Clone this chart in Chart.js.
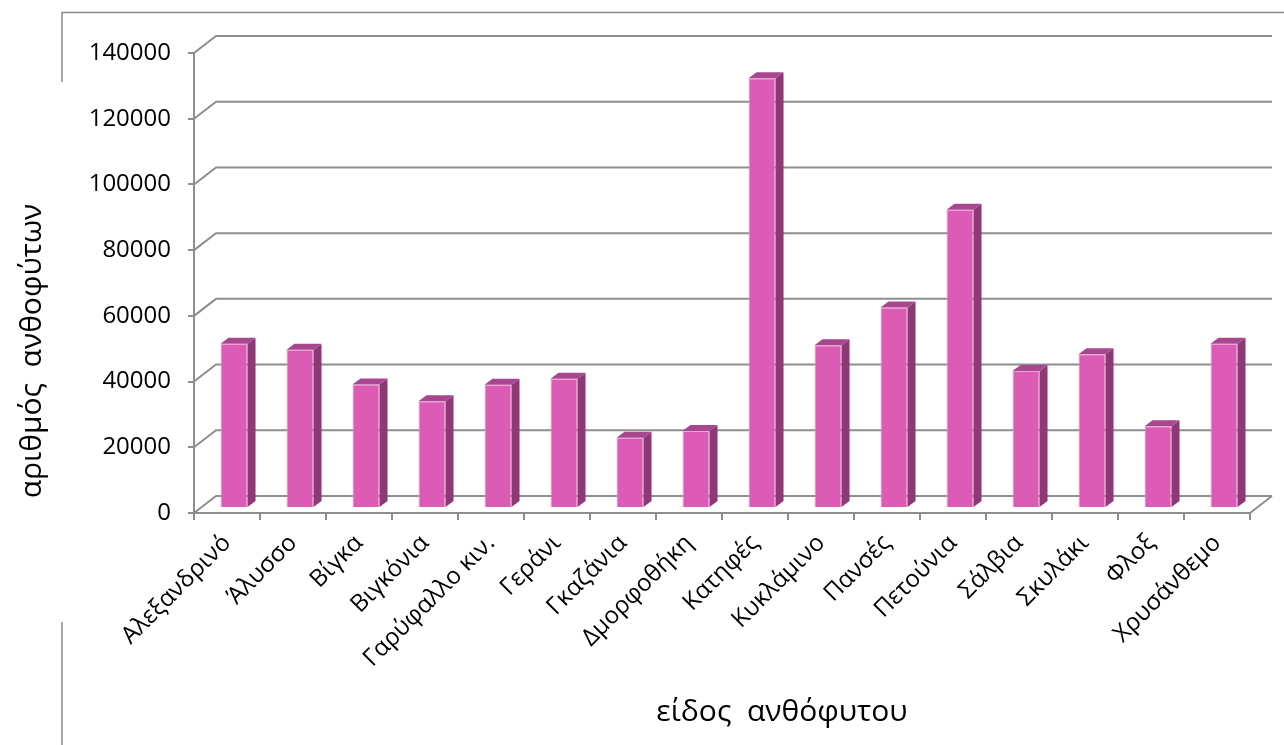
<!DOCTYPE html>
<html>
<head>
<meta charset="utf-8">
<script src="https://cdn.jsdelivr.net/npm/chart.js@4"></script>
<style>
  html, body { margin: 0; padding: 0; background: #fff; }
  canvas { display: block; }
</style>
</head>
<body>
<canvas id="graph" width="1284" height="745"></canvas>
<script>
const categories = ["Αλεξανδρινό", "Άλυσσο", "Βίγκα", "Βιγκόνια", "Γαρύφαλλο κιν.", "Γεράνι", "Γκαζάνια", "Δμορφοθήκη",
  "Κατηφές", "Κυκλάμινο", "Πανσές", "Πετούνια", "Σάλβια", "Σκυλάκι", "Φλοξ", "Χρυσάνθεμο"];
const plantCounts = [50000, 48200, 37600, 32500, 37500, 39300, 21400, 23400,
  130800, 49500, 61000, 90800, 41700, 46800, 24900, 50000];
const yTicks = [0, 20000, 40000, 60000, 80000, 100000, 120000, 140000];
const xTitle = "είδος  ανθόφυτου";
const yTitle = "αριθμός  ανθοφύτων";

const FONT = "'Open Sans', 'Noto Sans', sans-serif";
const GRID = "#8e8e8e";
// βάθος του "τρισδιάστατου" διαγράμματος
const DEPTH = { x: 22, y: 17 };
const BAR_SHIFT = { x: 7, y: -5 };
const BAR_DEPTH = { x: 8, y: 6 };

const fake3d = {
  id: "fake3d",
  beforeDraw(chart) {
    const ctx = chart.ctx;
    ctx.save();
    // πλαίσιο
    ctx.strokeStyle = "#8a8a8a";
    ctx.lineWidth = 1.5;
    ctx.beginPath();
    ctx.moveTo(62, 82); ctx.lineTo(62, 12.5); ctx.lineTo(1284, 12.5);
    ctx.moveTo(62, 622); ctx.lineTo(62, 745);
    ctx.stroke();
    ctx.restore();
  },
  beforeDatasetsDraw(chart) {
    const { ctx, chartArea } = chart;
    const y = chart.scales.y;
    ctx.save();
    ctx.strokeStyle = GRID;
    ctx.lineWidth = 2;
    ctx.beginPath();
    yTicks.forEach(v => {
      const py = y.getPixelForValue(v);
      ctx.moveTo(chartArea.left, py);
      ctx.lineTo(chartArea.left + DEPTH.x, py - DEPTH.y);
      ctx.lineTo(chartArea.right + DEPTH.x, py - DEPTH.y);
    });
    // δεξιά γωνία του δαπέδου
    ctx.moveTo(chartArea.right, chartArea.bottom);
    ctx.lineTo(chartArea.right + DEPTH.x, chartArea.bottom - DEPTH.y);
    ctx.stroke();
    ctx.restore();

    ctx.save();
    ctx.translate(BAR_SHIFT.x, BAR_SHIFT.y);
  },
  afterDatasetsDraw(chart) {
    const ctx = chart.ctx;
    chart.getDatasetMeta(0).data.forEach(bar => {
      const { x, y, base, width } = bar.getProps(["x", "y", "base", "width"], true);
      const l = x - width / 2, r = x + width / 2;
      ctx.fillStyle = "#8b3a75";
      ctx.beginPath();
      ctx.moveTo(r, y); ctx.lineTo(r + BAR_DEPTH.x, y - BAR_DEPTH.y);
      ctx.lineTo(r + BAR_DEPTH.x, base - BAR_DEPTH.y); ctx.lineTo(r, base);
      ctx.closePath(); ctx.fill();
      ctx.fillStyle = "#a8468f";
      ctx.beginPath();
      ctx.moveTo(l, y); ctx.lineTo(l + BAR_DEPTH.x, y - BAR_DEPTH.y);
      ctx.lineTo(r + BAR_DEPTH.x, y - BAR_DEPTH.y); ctx.lineTo(r, y);
      ctx.closePath(); ctx.fill();
    });
    ctx.restore();
  },
  afterDraw(chart) {
    const ctx = chart.ctx;
    ctx.save();
    ctx.fillStyle = "#000";
    ctx.font = "30px " + FONT;
    ctx.textAlign = "center";
    ctx.textBaseline = "middle";
    ctx.fillText(xTitle, 782, 712);
    ctx.translate(32, 351);
    ctx.rotate(-Math.PI / 2);
    ctx.fillText(yTitle, 0, 0);
    ctx.restore();
  }
};

new Chart(document.getElementById("graph"), {
  type: "bar",
  data: {
    labels: categories,
    datasets: [{
      data: plantCounts,
      backgroundColor: "#db5bb5",
      borderColor: "#eea3d6",
      borderWidth: 1,
      categoryPercentage: 1,
      barPercentage: 0.41
    }]
  },
  options: {
    responsive: false,
    animation: false,
    layout: { padding: { top: 53, right: 34, left: 0, bottom: 0 } },
    plugins: { legend: { display: false }, tooltip: { enabled: false } },
    scales: {
      x: {
        grid: { drawOnChartArea: false, drawTicks: true, tickLength: 7, color: GRID, lineWidth: 2 },
        border: { color: GRID, width: 2 },
        ticks: { color: "#000", font: { family: FONT, size: 24 }, minRotation: 45, maxRotation: 45, padding: 9, autoSkip: false },
        afterFit(scale) { scale.height = 232; scale.paddingLeft = 0; scale.paddingRight = 0; }
      },
      y: {
        min: 0, max: 140000,
        grid: { drawOnChartArea: false, drawTicks: true, tickLength: 6, color: GRID, lineWidth: 2 },
        border: { color: GRID, width: 2 },
        ticks: { stepSize: 20000, color: "#000", font: { family: FONT, size: 24 }, padding: 17, callback: v => String(v) },
        afterFit(scale) { scale.width = 194; scale.paddingTop = 0; scale.paddingBottom = 0; }
      }
    }
  },
  plugins: [fake3d]
});
</script>
</body>
</html>
